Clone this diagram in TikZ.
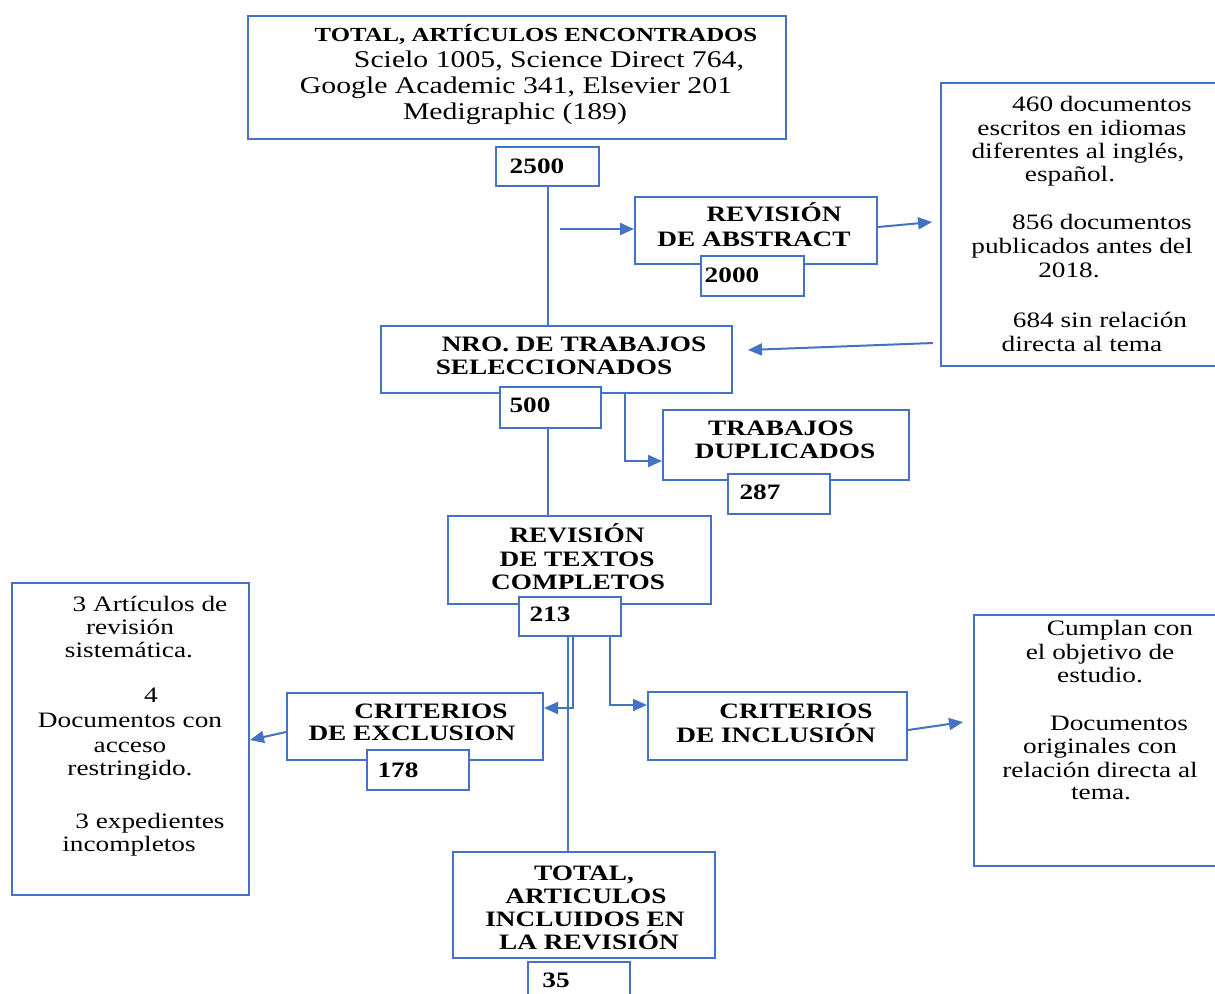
\documentclass[tikz,border=0pt]{standalone}
\usepackage{fontspec}
\setmainfont{Liberation Serif}[FakeStretch=1.24]
\usetikzlibrary{arrows.meta}
\definecolor{bl}{HTML}{4472C4}
\begin{document}
\begin{tikzpicture}[x=0.5pt,y=-0.5pt,
  box/.style={draw=bl,line width=1pt,fill=white,rectangle,inner sep=0pt},
  ln/.style={draw=bl,line width=1pt},
  arr/.style={draw=bl,line width=1pt,-{Triangle[length=7pt,width=6pt]}},
  tx/.style={inner sep=0pt,anchor=base,font=\fontsize{11pt}{13pt}\selectfont},
  txb/.style={inner sep=0pt,anchor=base,font=\fontsize{11pt}{13pt}\selectfont\bfseries},
  txl/.style={inner sep=0pt,anchor=base,font=\fontsize{12pt}{14pt}\selectfont},
  txs/.style={inner sep=0pt,anchor=base,font=\fontsize{10pt}{12pt}\selectfont\bfseries}]
\useasboundingbox (0,0) rectangle (1215,993);
\clip (0,0) rectangle (1215,993);
\fill[white] (0,0) rectangle (1215,993);
% boxes
\node[box,minimum width=269pt,minimum height=61.5pt] (top) at (517,77.5) {};
\node[box,minimum width=51.5pt,minimum height=19.5pt] (b2500) at (547.5,166.5) {};
\node[box,minimum width=121pt,minimum height=33.5pt] (abs) at (756,230.5) {};
\node[box,minimum width=51.5pt,minimum height=20pt] (b2000) at (752.5,276) {};
\node[box,minimum width=140.5pt,minimum height=141.5pt] (rbox) at (1081.5,224.5) {};
\node[box,minimum width=175.5pt,minimum height=33.5pt] (nro) at (556.5,359.5) {};
\node[box,minimum width=50.5pt,minimum height=20.5pt] (b500) at (550.5,407.5) {};
\node[box,minimum width=123pt,minimum height=35pt] (dup) at (786,445) {};
\node[box,minimum width=51pt,minimum height=20pt] (b287) at (779,494) {};
\node[box,minimum width=131.5pt,minimum height=44pt] (rev) at (579.5,560) {};
\node[box,minimum width=51pt,minimum height=19.5pt] (b213) at (570,616.5) {};
\node[box,minimum width=128pt,minimum height=33.5pt] (exc) at (415,726.5) {};
\node[box,minimum width=51pt,minimum height=20pt] (b178) at (418,770) {};
\node[box,minimum width=118.5pt,minimum height=156pt] (lbox) at (130.5,739) {};
\node[box,minimum width=129.5pt,minimum height=34pt] (inc) at (777.5,726) {};
\node[box,minimum width=124pt,minimum height=125.5pt] (rbox2) at (1098,740.5) {};
\node[box,minimum width=131pt,minimum height=53pt] (tot) at (584,905) {};
\node[box,minimum width=51pt,minimum height=20pt] (b35) at (579,982) {};
% connectors
\draw[ln] (b2500.south) -- (b2500.south |- nro.north);
\coordinate (a1) at (560,229);
\draw[arr] (a1) -- (a1 -| abs.west);
\coordinate (e1) at (932,222);
\draw[arr] (abs.east |- 0,227) -- (e1);
\coordinate (s2) at (933,343);
\coordinate (e2) at (748,350);
\draw[arr] (s2) -- (e2);
\draw[arr] (nro.south -| 625,0) |- (dup.west |- 0,461);
\draw[ln] (b500.south -| 548,0) -- (rev.north -| 548,0);
\draw[ln] (b213.south -| 568,0) -- (tot.north -| 568,0);
\draw[arr] (b213.south -| 573,0) |- (exc.east |- 0,708);
\draw[arr] (b213.south -| 610,0) |- (inc.west |- 0,705);
\coordinate (e3) at (963,722);
\draw[arr] (inc.east |- 0,730) -- (e3);
\draw[arr] (exc.west |- 0,732) -- (lbox.east |- 0,740);
% texts: top
\node[txs] (t1) at (536,41) {TOTAL, ARTÍCULOS ENCONTRADOS};
\node[txl] (t2) at (549,67) {Scielo 1005, Science Direct 764,};
\node[txl] (t3) at (516,93) {Google Academic 341, Elsevier 201};
\node[txl] (t4) at (515,119) {Medigraphic (189)};
\node[txb] (t5) at (537,173) {2500};
% abstract
\node[txb] (t6) at (774,221) {REVISIÓN};
\node[txb] (t7) at (754,246) {DE ABSTRACT};
\node[txb] (t8) at (732,282) {2000};
% right box
\node[tx] (r1) at (1102,111) {460 documentos};
\node[tx] (r2) at (1082,135) {escritos en idiomas};
\node[tx] (r3) at (1078,158) {diferentes al inglés,};
\node[tx] (r4) at (1070,181) {español.};
\node[tx] (r5) at (1102,229) {856 documentos};
\node[tx] (r6) at (1082,253) {publicados antes del};
\node[tx] (r7) at (1069,277) {2018.};
\node[tx] (r8) at (1100,327) {684 sin relación};
\node[tx] (r9) at (1082,351) {directa al tema};
% nro
\node[txb] (n1) at (574,351) {NRO. DE TRABAJOS};
\node[txb] (n2) at (554,374) {SELECCIONADOS};
\node[txb] (n3) at (530,412) {500};
% dup
\node[txb] (d1) at (781,435) {TRABAJOS};
\node[txb] (d2) at (785,458) {DUPLICADOS};
\node[txb] (d3) at (760,499) {287};
% rev
\node[txb] (v1) at (577,542) {REVISIÓN};
\node[txb] (v2) at (577,566) {DE TEXTOS};
\node[txb] (v3) at (578,589) {COMPLETOS};
\node[txb] (v4) at (550,621) {213};
% left box
\node[tx] (l1) at (150,611) {3 Artículos de};
\node[tx] (l2) at (130,634) {revisión};
\node[tx] (l3) at (129,657) {sistemática.};
\node[tx] (l4) at (151,702) {4};
\node[tx] (l5) at (130,727) {Documentos con};
\node[tx] (l6) at (130,752) {acceso};
\node[tx] (l7) at (130,775) {restringido.};
\node[tx] (l8) at (150,828) {3 expedientes};
\node[tx] (l9) at (129,851) {incompletos};
% exclusion
\node[txb] (x1) at (431,718) {CRITERIOS};
\node[txb] (x2) at (412,740) {DE EXCLUSION};
\node[txb] (x3) at (398,777) {178};
% inclusion
\node[txb] (i1) at (796,718) {CRITERIOS};
\node[txb] (i2) at (776,742) {DE INCLUSIÓN};
% right box 2
\node[tx] (q1) at (1120,635) {Cumplan con};
\node[tx] (q2) at (1100,659) {el objetivo de};
\node[tx] (q3) at (1100,682) {estudio.};
\node[tx] (q4) at (1119,730) {Documentos};
\node[tx] (q5) at (1100,753) {originales con};
\node[tx] (q6) at (1100,777) {relación directa al};
\node[tx] (q7) at (1101,799) {tema.};
% total
\node[txb] (o1) at (584,880) {TOTAL,};
\node[txb] (o2) at (586,903) {ARTICULOS};
\node[txb] (o3) at (585,926) {INCLUIDOS EN};
\node[txb] (o4) at (589,949) {LA REVISIÓN};
\node[txb] (o5) at (556,987) {35};
\end{tikzpicture}
\end{document}
